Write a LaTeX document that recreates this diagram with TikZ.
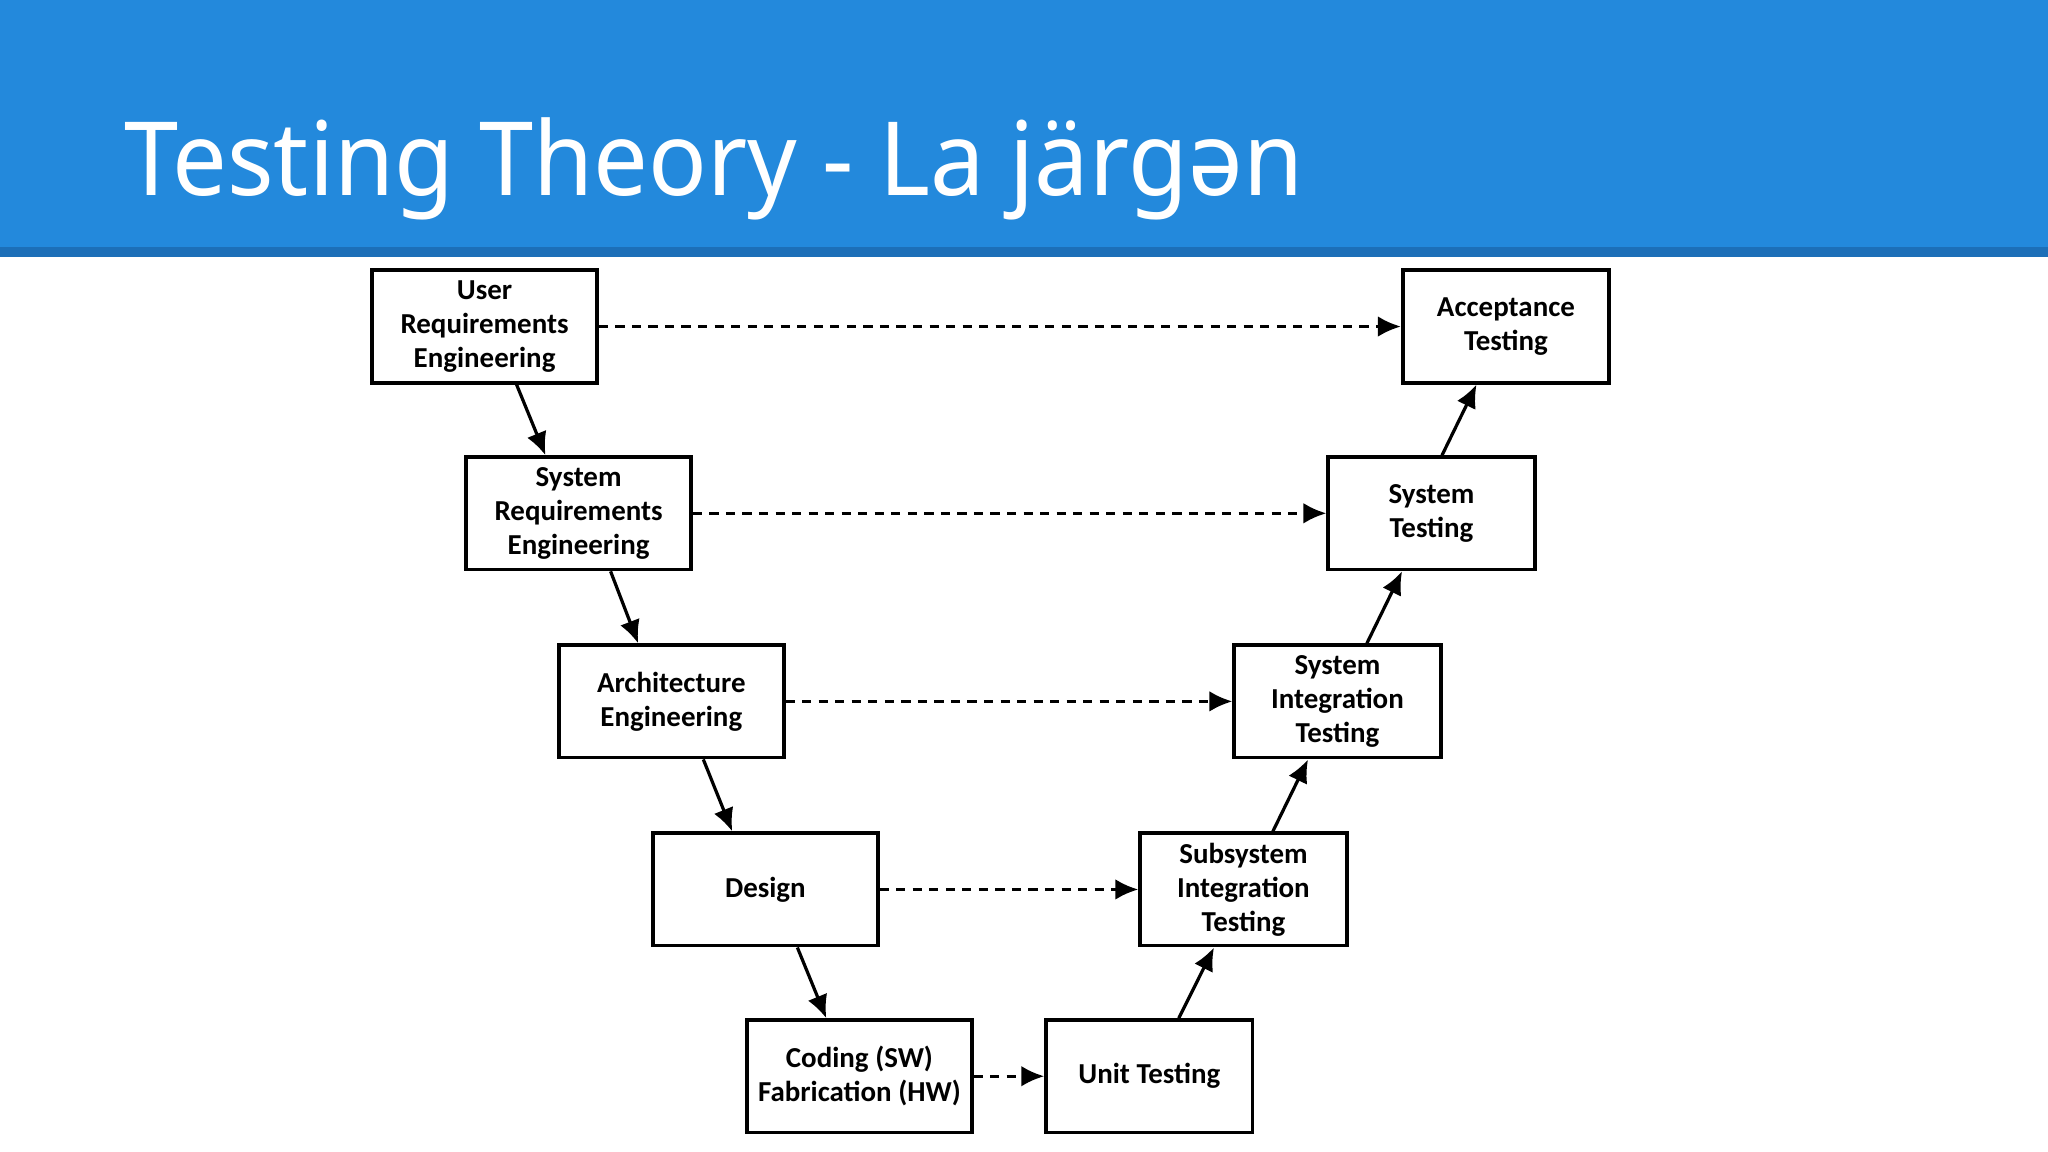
\documentclass[tikz,border=0pt]{standalone}
\usepackage{fontspec}
\setmainfont{Carlito}
\newfontfamily\titlefont[FakeStretch=0.95]{Noto Sans}
\usetikzlibrary{arrows.meta,calc}
\definecolor{banner}{HTML}{2389DC}
\definecolor{bannerdark}{HTML}{1C6FB8}
\tikzset{
  vbox/.style={draw,line width=0.8pt,minimum width=1.72cm,minimum height=0.86cm,align=center,font=\fontsize{6.3}{7.4}\selectfont\bfseries,inner sep=0pt},
  rbox/.style={vbox,minimum width=1.58cm},
  flow/.style={line width=0.7pt,-{Latex[length=5pt,width=4.5pt]}},
  dflow/.style={flow,dashed,dash pattern=on 2pt off 1.6pt}
}
\begin{document}
\begin{tikzpicture}[x=0.01cm,y=-0.01cm]
\useasboundingbox (0,0) rectangle (1568,882);
\fill[white] (0,0) rectangle (1568,882);
\fill[banner] (0,0) rectangle (1568,189);
\fill[bannerdark] (0,189) rectangle (1568,197);
\node[anchor=base west,text=white,font=\titlefont\bfseries\fontsize{22.3}{27}\selectfont,inner sep=0pt] (title) at (95,150) {Testing Theory - La järgən};
\node[vbox] (ur) at (371,250) {User\\Requirements\\Engineering};
\node[vbox] (sr) at (443,393) {System\\Requirements\\Engineering};
\node[vbox] (ae) at (514,537) {Architecture\\Engineering};
\node[vbox] (de) at (586,681) {Design};
\node[vbox] (co) at (658,824) {Coding (SW)\\Fabrication (HW)};
\node[rbox] (ut) at (880,824) {Unit Testing};
\node[rbox] (sit) at (952,681) {Subsystem\\Integration\\Testing};
\node[rbox] (syit) at (1024,537) {System\\Integration\\Testing};
\node[rbox] (st) at (1096,393) {System\\Testing};
\node[rbox] (at) at (1153,250) {Acceptance\\Testing};
\foreach \a/\b in {ur/sr,sr/ae,ae/de,de/co}
  \draw[flow] ($(\a.south west)!0.64!(\a.south east)$) -- ($(\b.north west)!0.355!(\b.north east)$);
\foreach \a/\b in {ut/sit,sit/syit,syit/st}
  \draw[flow] ($(\a.north west)!0.64!(\a.north east)$) -- ($(\b.south west)!0.36!(\b.south east)$);
\draw[flow] ($(st.north west)!0.55!(st.north east)$) -- ($(at.south west)!0.36!(at.south east)$);
\foreach \a/\b in {ur/at,sr/st,ae/syit,de/sit,co/ut}
  \draw[dflow] (\a.east) -- (\b.west);
\end{tikzpicture}
\end{document}
